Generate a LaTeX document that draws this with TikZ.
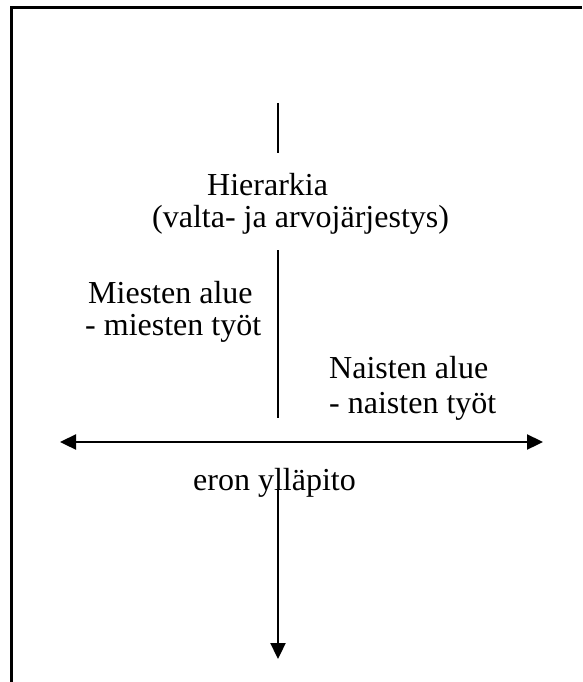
\documentclass[tikz,border=0pt]{standalone}
\usepackage{fontspec}
\setmainfont{Liberation Serif}
\usetikzlibrary{arrows.meta}
\begin{document}
\begin{tikzpicture}[x=1pt,y=-1pt,
  lbl/.style={anchor=base west,inner sep=0pt,font=\fontsize{32}{36}\selectfont},
  ln/.style={line width=2.3pt},
  tip/.style={-{Triangle[length=16pt,width=15pt]}}]
\useasboundingbox (0,0) rectangle (582,682);
% frame (left and top edges visible)
\draw[line width=3pt] (11,682) -- (11,7.3) -- (582,7.3);
% texts
\node[lbl] (h1) at (207,195) {Hierarkia};
\node[lbl] (h2) at (152,227) {(valta- ja arvojärjestys)};
\node[lbl] (m1) at (88,303) {Miesten alue};
\node[lbl] (m2) at (85,335) {- miesten työt};
\node[lbl] (n1) at (329,378) {Naisten alue};
\node[lbl] (n2) at (329,413) {- naisten työt};
\node[lbl] (e) at (193,490) {eron ylläpito};
% coordinates
\coordinate (t1) at (278,103);
\coordinate (t2) at (278,153);
\coordinate (c1) at (278,250);
\coordinate (c2) at (278,418);
\coordinate (hl) at (60,442);
\coordinate (hr) at (543,442);
\coordinate (b1) at (278,490);
\coordinate (b2) at (278,659);
% lines
\draw[ln] (t1) -- (t2);
\draw[ln] (c1) -- (c2);
\draw[ln,{Triangle[length=16pt,width=15pt]}-{Triangle[length=16pt,width=15pt]}] (hl) -- (hr);
\draw[ln,tip] (b1) -- (b2);
\end{tikzpicture}
\end{document}
